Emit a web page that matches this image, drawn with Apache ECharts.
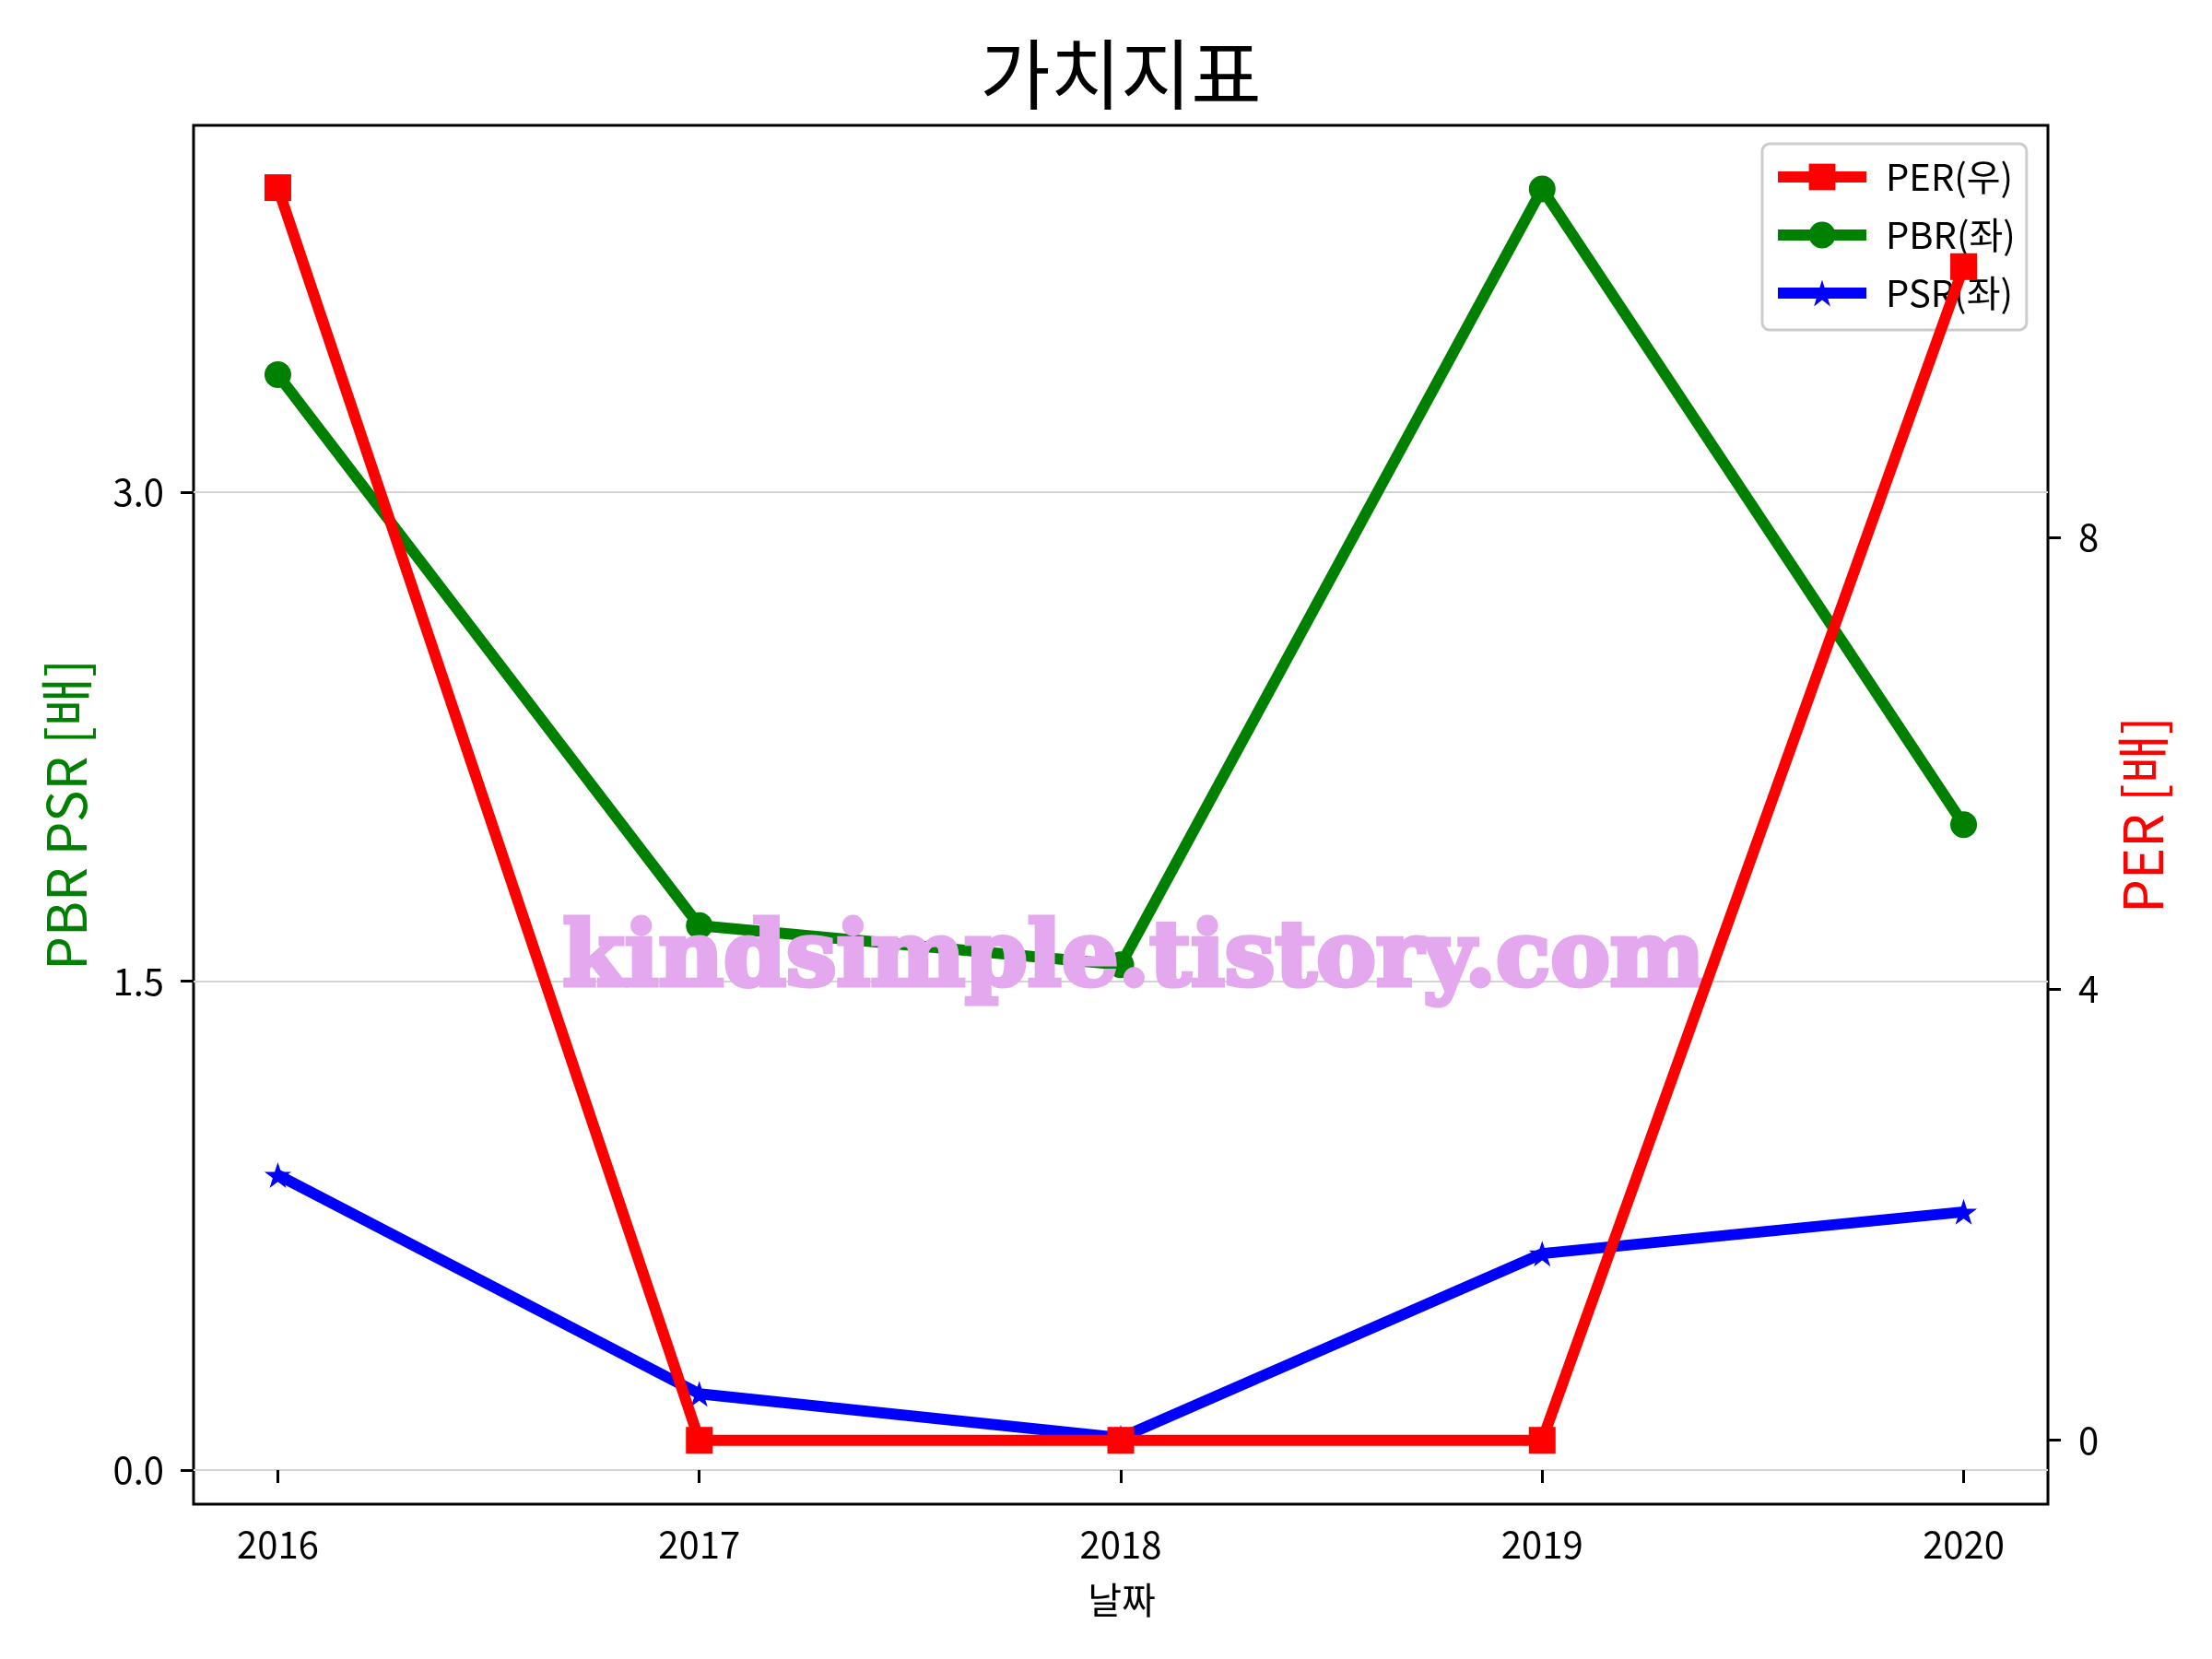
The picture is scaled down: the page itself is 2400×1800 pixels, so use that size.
<!DOCTYPE html>
<html>
<head>
<meta charset="utf-8">
<title>가치지표</title>
<script src="https://cdn.jsdelivr.net/npm/echarts@6/dist/echarts.min.js"></script>
<style>
  html, body { margin: 0; padding: 0; background: #fff; }
  #chart { width: 2400px; height: 1800px; }
</style>
</head>
<body>
<div id="chart"></div>
<script>
var years = [2016, 2017, 2018, 2019, 2020]
var perData = [11.10, 0, 0, 0, 10.40]
var pbrData = [3.36, 1.67, 1.55, 3.93, 1.98]
var psrData = [0.905, 0.234, 0.099, 0.664, 0.792]
var leftTicks = [0, 1.5, 3.0]
var rightTicks = [0, 4, 8]

var FONT = 'Noto Sans CJK KR'
// matplotlib '*' marker
var starPath = 'path://M50 0L61.23 34.55L97.55 34.55L68.17 55.9L79.39 90.45L50 69.1L20.61 90.45L31.83 55.9L2.45 34.55L38.77 34.55Z'

function pairs (values) {
  return years.map(function (y, i) { return [y, values[i]] })
}

function lineSeries (name, values, color, symbol, size, axis, z) {
  return {
    name: name,
    type: 'line',
    yAxisIndex: axis,
    data: pairs(values),
    symbol: symbol,
    symbolSize: size,
    showSymbol: true,
    z: z,
    lineStyle: { color: color, width: 12, join: 'round' },
    itemStyle: { color: color, borderWidth: 0 },
    emphasis: { disabled: true }
  }
}

var tickStyle = { color: '#000', width: 3 }
var labelStyle = { fontSize: 40, fontFamily: FONT, color: '#000' }

var chart = echarts.init(document.getElementById('chart'))
chart.setOption({
  animation: false,
  backgroundColor: '#fff',
  grid: {
    left: 210,
    right: 178,
    top: 136,
    bottom: 168,
    show: true,
    borderColor: '#000',
    borderWidth: 3
  },
  legend: {
    data: ['PER(우)', 'PBR(좌)', 'PSR(좌)'],
    orient: 'vertical',
    left: 1912,
    top: 156,
    itemWidth: 96,
    itemHeight: 36,
    itemGap: 23,
    padding: [16, 12, 20, 11],
    backgroundColor: 'rgba(255,255,255,0.8)',
    borderColor: '#cccccc',
    borderWidth: 3,
    borderRadius: 8,
    selectedMode: false,
    lineStyle: { width: 12 },
    textStyle: Object.assign({ padding: [0, 0, 0, 16] }, labelStyle)
  },
  xAxis: {
    type: 'value',
    min: 2015.8,
    max: 2020.2,
    axisLine: { show: false },
    axisTick: { show: true, length: 14, lineStyle: tickStyle, customValues: years },
    axisLabel: Object.assign({
      customValues: years,
      margin: 24,
      formatter: function (v) { return String(v) }
    }, labelStyle),
    splitLine: { show: false }
  },
  yAxis: [
    {
      type: 'value',
      position: 'left',
      min: -0.1046,
      max: 4.125,
      axisLine: { show: false },
      axisTick: { show: true, length: 14, lineStyle: tickStyle, customValues: leftTicks },
      axisLabel: Object.assign({
        customValues: leftTicks,
        margin: 32,
        formatter: function (v) { return v.toFixed(1) }
      }, labelStyle),
      splitLine: { show: true, lineStyle: { color: '#d4d4d4', width: 2 } }
    },
    {
      type: 'value',
      position: 'right',
      min: -0.566,
      max: 11.652,
      axisLine: { show: false },
      axisTick: { show: true, length: 14, lineStyle: tickStyle, customValues: rightTicks },
      axisLabel: Object.assign({
        customValues: rightTicks,
        margin: 33,
        formatter: function (v) { return String(v) }
      }, labelStyle),
      splitLine: { show: false }
    }
  ],
  graphic: [
    {
      type: 'text', x: 1216, y: 80,
      style: { text: '가치지표', fill: '#000', fontSize: 83, fontFamily: FONT, textAlign: 'center', textVerticalAlign: 'middle' }
    },
    {
      type: 'text', x: 1217, y: 1736,
      style: { text: '날짜', fill: '#000', fontSize: 40, fontFamily: FONT, textAlign: 'center', textVerticalAlign: 'middle' }
    },
    {
      type: 'text', x: 72, y: 884, rotation: Math.PI / 2,
      style: { text: 'PBR PSR [배]', fill: '#008000', fontSize: 58, fontFamily: FONT, textAlign: 'center', textVerticalAlign: 'middle' }
    },
    {
      type: 'text', x: 2325, y: 884, rotation: Math.PI / 2,
      style: { text: 'PER [배]', fill: '#ff0000', fontSize: 58, fontFamily: FONT, textAlign: 'center', textVerticalAlign: 'middle' }
    },
    {
      // watermark sits above the left-axis lines, below PER
      type: 'text', x: 1230, y: 1044, z: 5,
      style: {
        text: 'kindsimple.tistory.com',
        fill: '#e4a8ee',
        stroke: '#e4a8ee',
        lineWidth: 5,
        fontSize: 97,
        fontFamily: 'DejaVu Serif',
        fontWeight: 'bold',
        textAlign: 'center',
        textVerticalAlign: 'middle'
      }
    }
  ],
  series: [
    lineSeries('PER(우)', perData, '#ff0000', 'rect', 29, 1, 10),
    lineSeries('PBR(좌)', pbrData, '#008000', 'circle', 29, 0, 2),
    lineSeries('PSR(좌)', psrData, '#0000ff', starPath, [29, 28], 0, 2)
  ]
})
</script>
</body>
</html>
